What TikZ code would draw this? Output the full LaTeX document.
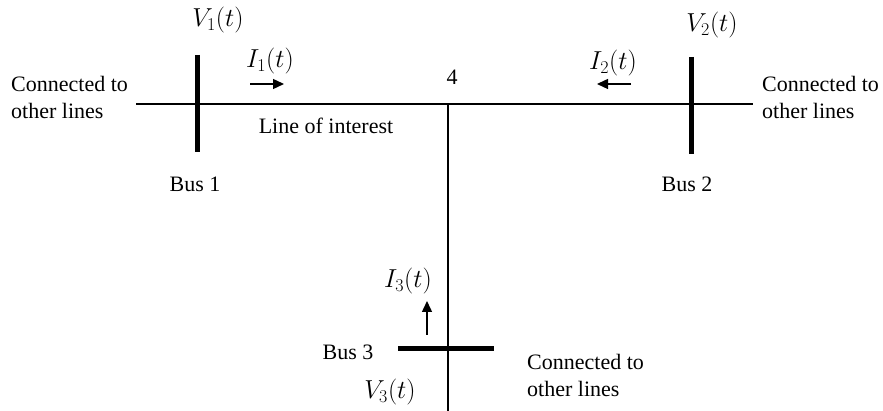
\RequirePackage{fix-cm}
\documentclass[tikz,border=0pt]{standalone}
\usepackage{fontspec}
\setmainfont{Liberation Serif}
\usetikzlibrary{arrows.meta}
\DeclareMathSizes{26}{26}{18}{14}
\begin{document}
\begin{tikzpicture}[x=1pt,y=-1pt,
  txt/.style={font=\fontsize{22}{27}\selectfont, inner sep=0pt},
  mth/.style={font=\fontsize{26}{30}\selectfont, inner sep=0pt},
  wire/.style={line width=1.8pt},
  busbar/.style={line width=5pt},
  flow/.style={line width=1.4pt, -{Triangle[length=11pt,width=10pt]}}]
\useasboundingbox (0,0) rectangle (883,411);
% coordinates
\coordinate (lend) at (136,104);
\coordinate (rend) at (753,104);
\coordinate (j4) at (448,104);
\coordinate (bend) at (448,411);
\coordinate (b1t) at (197,55);
\coordinate (b1b) at (197,152);
\coordinate (b2t) at (691,57);
\coordinate (b2b) at (691,154);
\coordinate (b3l) at (398,349);
\coordinate (b3r) at (494,349);
% wires
\draw[wire] (lend) -- (rend);
\draw[wire] (j4) -- (bend);
% buses
\draw[busbar] (b1t) -- (b1b);
\draw[busbar] (b2t) -- (b2b);
\draw[busbar] (b3l) -- (b3r);
% current arrows
\coordinate (a1s) at (250,84);
\coordinate (a1e) at (284,84);
\coordinate (a2s) at (631,84);
\coordinate (a2e) at (597,84);
\coordinate (a3s) at (427,335);
\coordinate (a3e) at (427,301);
\draw[flow] (a1s) -- (a1e);
\draw[flow] (a2s) -- (a2e);
\draw[flow] (a3s) -- (a3e);
% labels
\node[mth] (v1) at (218,20) {$V_1(t)$};
\node[mth] (v2) at (712,25) {$V_2(t)$};
\node[mth] (v3) at (390,392) {$V_3(t)$};
\node[mth] (i1) at (270,61) {$I_1(t)$};
\node[mth] (i2) at (613,63) {$I_2(t)$};
\node[mth] (i3) at (408,281) {$I_3(t)$};
\node[txt] (n4) at (452,77) {4};
\node[txt] (loi) at (326,126) {Line of interest};
\node[txt] (bus1) at (195,184) {Bus 1};
\node[txt] (bus2) at (687,184) {Bus 2};
\node[txt] (bus3) at (348,352) {Bus 3};
\node[txt, align=left, anchor=west] (c1) at (11,97) {Connected to\\other lines};
\node[txt, align=left, anchor=west] (c2) at (762,97) {Connected to\\other lines};
\node[txt, align=left, anchor=west] (c3) at (527,375) {Connected to\\other lines};
\end{tikzpicture}
\end{document}
